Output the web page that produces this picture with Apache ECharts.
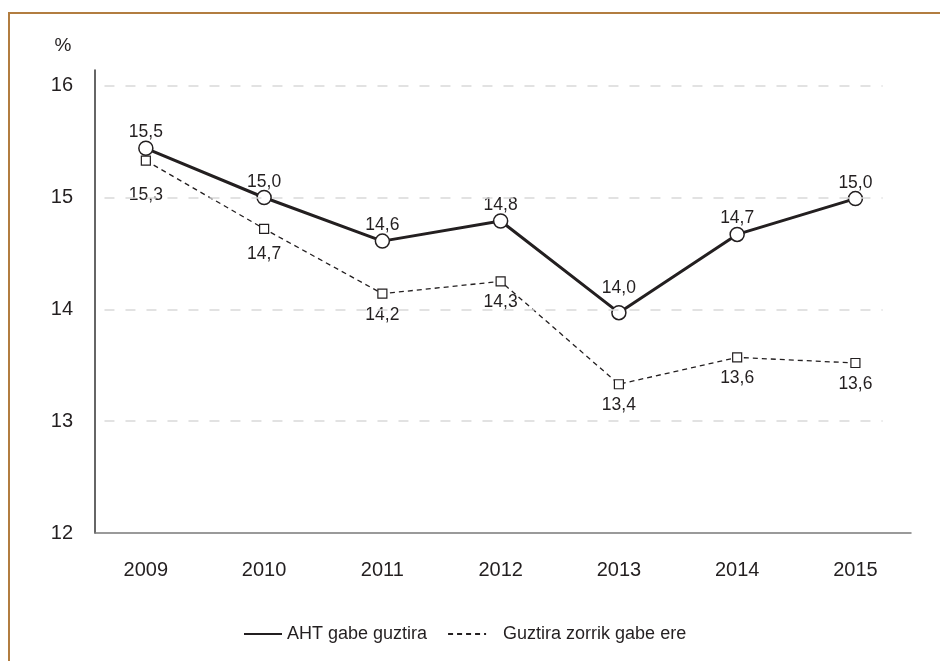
<!DOCTYPE html>
<html>
<head>
<meta charset="utf-8">
<script src="https://cdn.jsdelivr.net/npm/echarts@6/dist/echarts.min.js"></script>
<style>
  html, body { margin: 0; padding: 0; background: #fff; }
  #main { width: 940px; height: 661px; position: relative; }
  /* brown frame, only top and left edges show */
  #frame { position: absolute; left: 8px; top: 12px; width: 960px; height: 700px;
    border-top: 2px solid #b27d40; border-left: 2px solid #b27d40; pointer-events: none; }
  body { overflow: hidden; }
</style>
</head>
<body>
<div id="main"></div>
<div id="frame"></div>
<script>
// data
var years = [2009, 2010, 2011, 2012, 2013, 2014, 2015];
var ahtGabe = [15.44, 15.0, 14.61, 14.79, 13.97, 14.67, 14.99];
var ahtGabeLabels = ['15,5', '15,0', '14,6', '14,8', '14,0', '14,7', '15,0'];
var zorrikGabe = [15.33, 14.72, 14.14, 14.25, 13.33, 13.57, 13.52];
var zorrikGabeLabels = ['15,3', '14,7', '14,2', '14,3', '13,4', '13,6', '13,6'];
var yTicks = [12, 13, 14, 15, 16];
var gridLines = [13, 14, 15, 16];

var textColor = '#231f20';

function pairs(vals) {
  return years.map(function (y, i) { return [y, vals[i]]; });
}

var chart = echarts.init(document.getElementById('main'));

var option = {
  animation: false,
  textStyle: { fontFamily: 'Liberation Sans, Arial, sans-serif', color: textColor },
  grid: { left: 95, right: 29, top: 70, bottom: 128 },
  legend: {
    top: 620,
    left: 238,
    itemWidth: 38,
    itemHeight: 14,
    itemGap: 20,
    itemStyle: { opacity: 0 },
    textStyle: { fontSize: 18, color: textColor },
    data: [
      { name: 'AHT gabe guztira' },
      { name: 'Guztira zorrik gabe ere', textStyle: { padding: [0, 0, 0, 12] } }
    ]
  },
  xAxis: {
    type: 'value',
    min: 2008.57,
    max: 2015.47,
    splitLine: { show: false },
    axisTick: { show: false },
    axisLine: { show: true, lineStyle: { color: '#7a7a7a', width: 1.5 } },
    axisLabel: {
      customValues: years,
      margin: 27,
      fontSize: 20,
      color: textColor,
      formatter: function (v) { return String(v); }
    }
  },
  yAxis: {
    type: 'value',
    min: 12,
    max: 16.14,
    name: '%',
    nameLocation: 'end',
    nameGap: 15,
    nameTextStyle: { fontSize: 19, color: textColor, align: 'center', padding: [0, 64, 0, 0] },
    splitLine: { show: false },
    axisTick: { show: false },
    axisLine: { show: true, lineStyle: { color: '#333', width: 1.5 } },
    axisLabel: { customValues: yTicks, margin: 22, fontSize: 20, color: textColor }
  },
  series: [
    {
      name: 'Guztira zorrik gabe ere',
      type: 'line',
      z: 2,
      data: pairs(zorrikGabe),
      symbol: 'rect',
      symbolSize: 9,
      lineStyle: { color: '#231f20', width: 1.3, type: [5, 4] },
      itemStyle: { color: '#fff', borderColor: '#231f20', borderWidth: 1.2 },
      label: {
        show: true,
        position: 'bottom',
        distance: 7,
        fontSize: 17.5,
        color: textColor,
        formatter: function (p) { return zorrikGabeLabels[p.dataIndex]; }
      },
      markLine: {
        silent: true,
        symbol: 'none',
        label: { show: false },
        lineStyle: { color: '#d9d9d9', width: 1.5, type: [10, 11] },
        data: gridLines.map(function (v) {
          return [{ coord: [2008.65, v] }, { coord: [2015.23, v] }];
        })
      }
    },
    {
      name: 'AHT gabe guztira',
      type: 'line',
      z: 3,
      data: pairs(ahtGabe),
      symbol: 'circle',
      symbolSize: 14,
      lineStyle: { color: '#231f20', width: 3 },
      itemStyle: { color: '#fff', borderColor: '#231f20', borderWidth: 1.5 },
      label: {
        show: true,
        position: 'top',
        distance: -1,
        fontSize: 17.5,
        color: textColor,
        formatter: function (p) { return ahtGabeLabels[p.dataIndex]; }
      }
    }
  ]
};

// a few labels sit a bit further from their marker
option.series[0].data[0] = { value: option.series[0].data[0], label: { distance: 20 } };
option.series[0].data[1] = { value: option.series[0].data[1], label: { distance: 11 } };
option.series[1].data[4] = { value: option.series[1].data[4], label: { distance: 8 } };

chart.setOption(option);
</script>
</body>
</html>
